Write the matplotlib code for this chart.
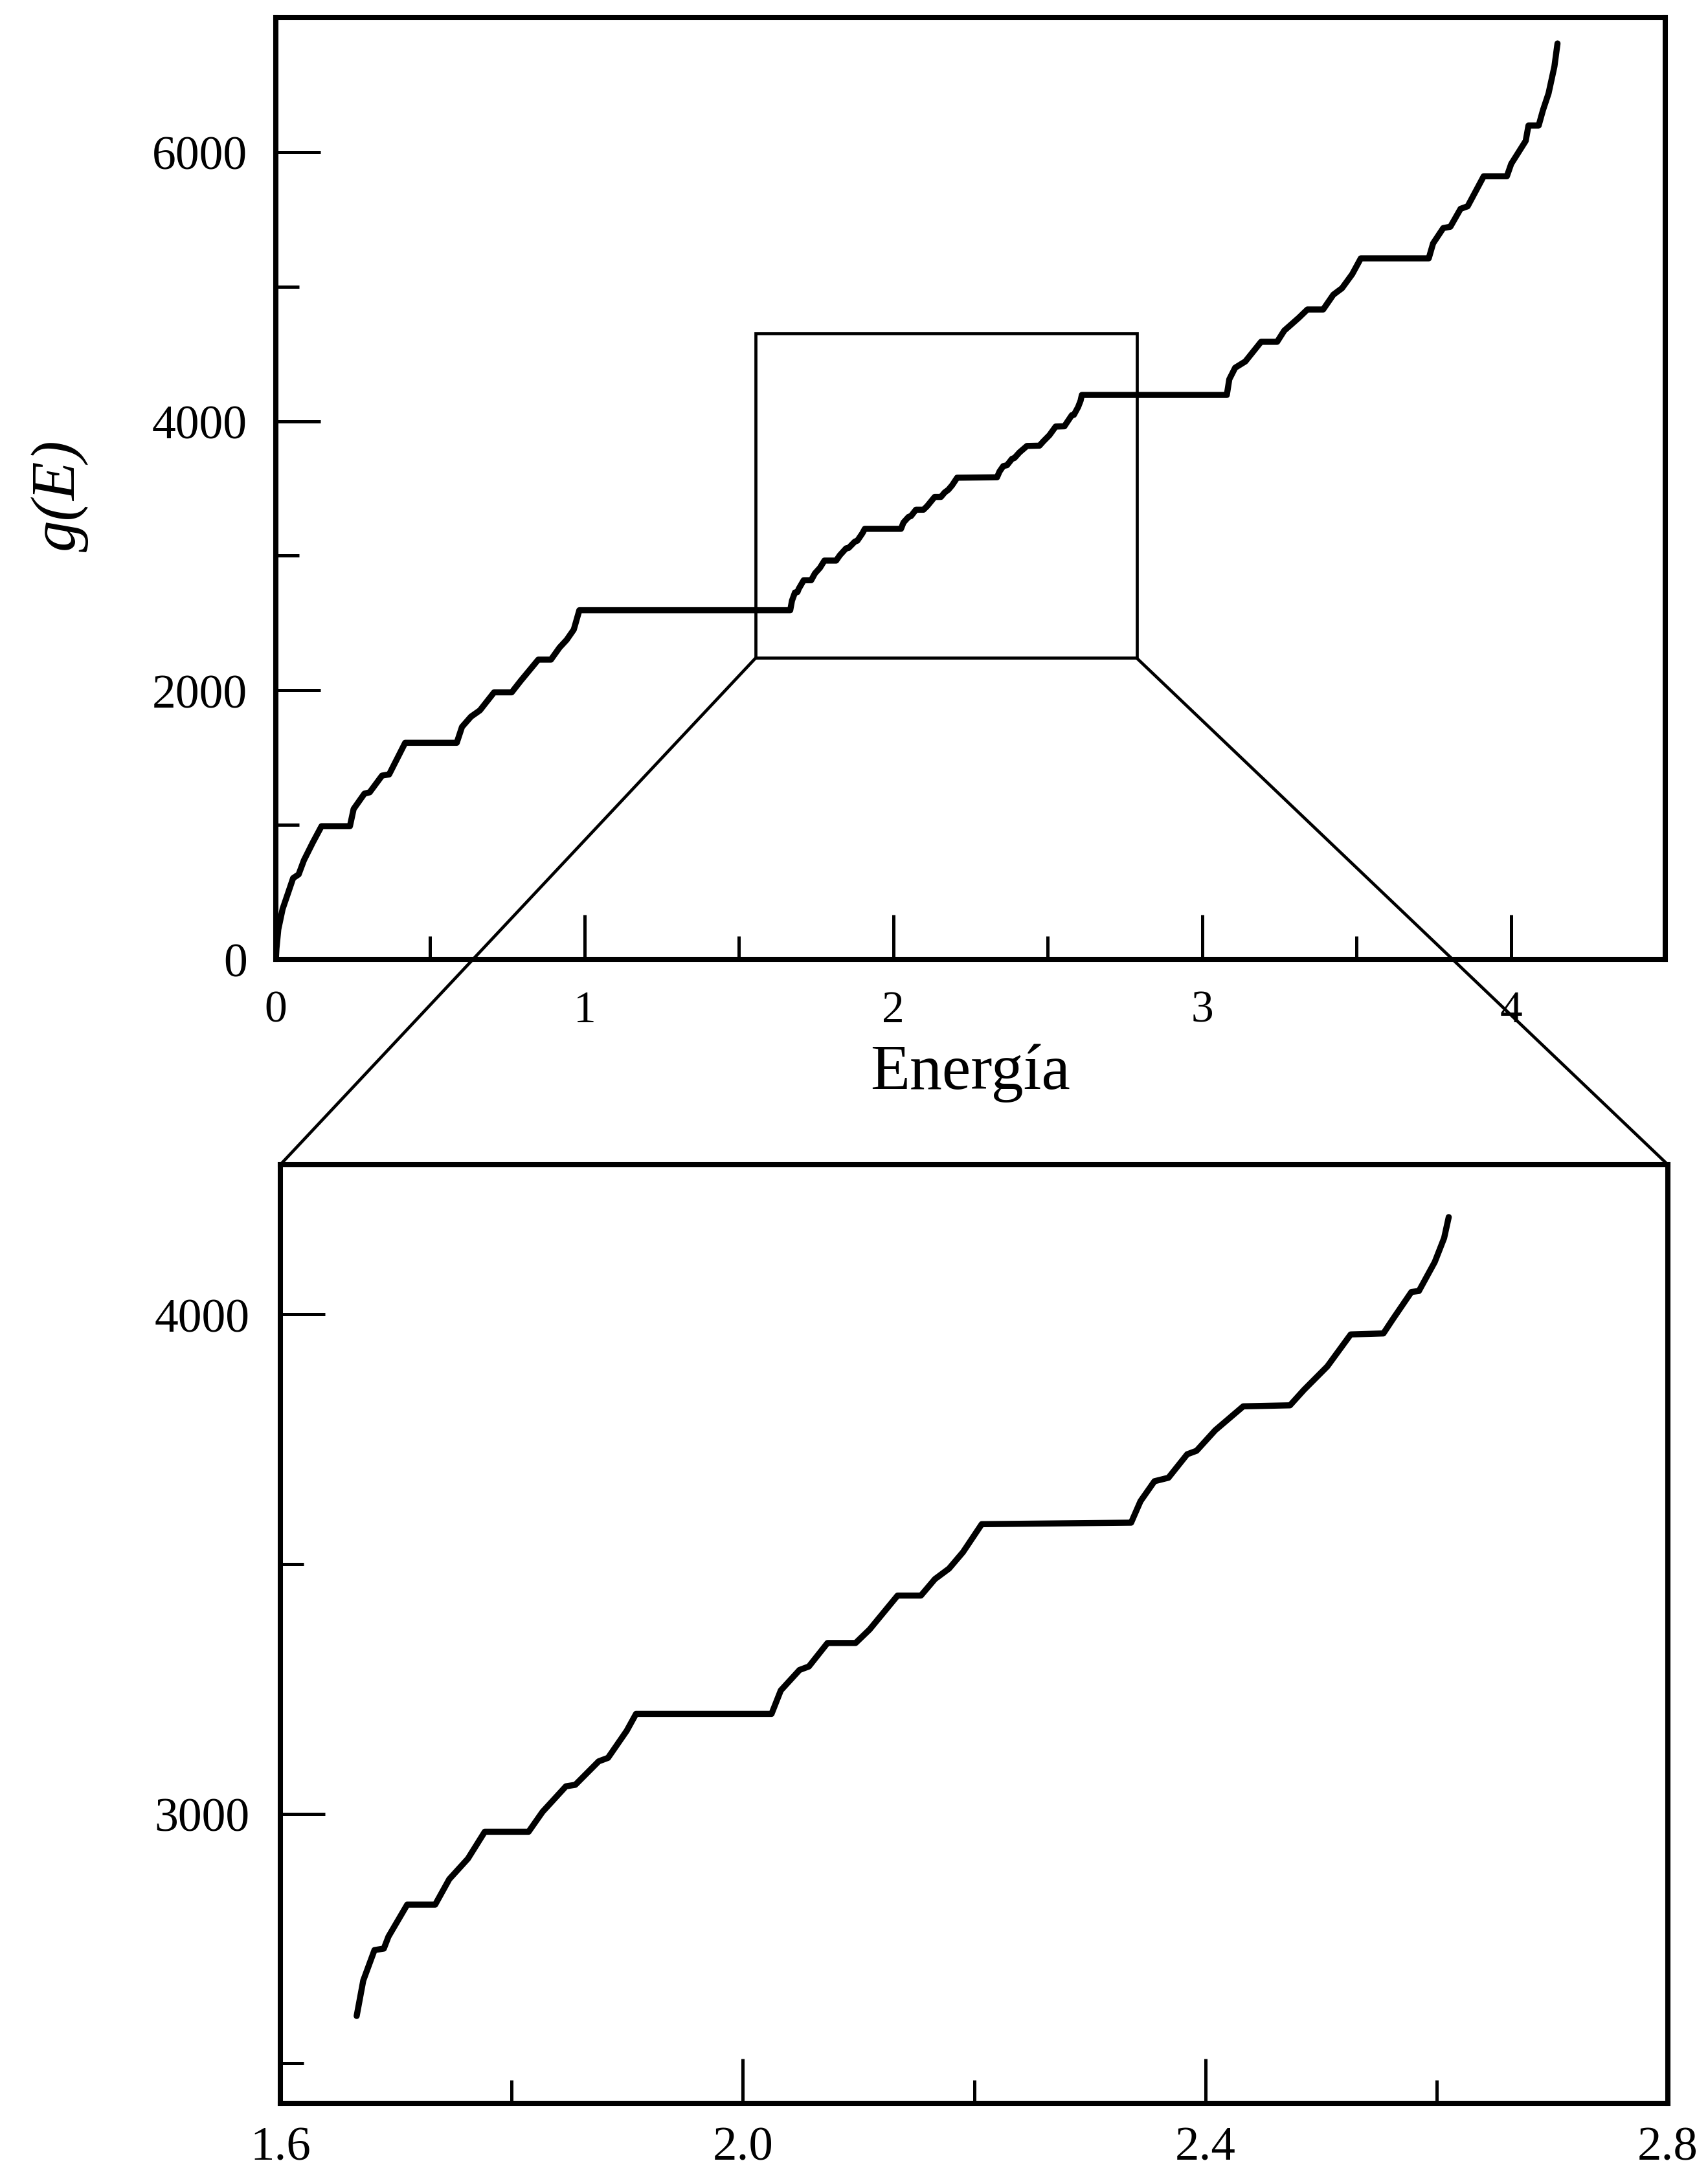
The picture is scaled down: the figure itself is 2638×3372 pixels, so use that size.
import matplotlib
matplotlib.use("Agg")
import numpy as np
import matplotlib.pyplot as plt
from matplotlib.patches import Rectangle, ConnectionPatch

# Integrated density of states g(E) versus energy
energy = [
    0.000, 0.002, 0.008, 0.022, 0.039, 0.056, 0.074, 0.091, 0.120, 0.148,
    0.240, 0.252, 0.287, 0.304, 0.344, 0.367, 0.419, 0.586, 0.603, 0.632,
    0.661, 0.707, 0.764, 0.793, 0.850, 0.891, 0.919, 0.942, 0.965, 0.983,
    1.666, 1.6717, 1.6814, 1.6895, 1.6935, 1.7097, 1.7339, 1.7461, 1.7622,
    1.7768, 1.8147, 1.8268, 1.8470, 1.8551, 1.8753, 1.8834, 1.8995, 1.9076,
    2.0248, 2.0328, 2.0490, 2.0571, 2.0732, 2.0975, 2.1096, 2.1338, 2.1540,
    2.1661, 2.1783, 2.1904, 2.2066, 2.3358, 2.3439, 2.3560, 2.3681, 2.3843,
    2.3924, 2.4085, 2.4328, 2.4732, 2.4853, 2.5055, 2.5257, 2.5540, 2.5620,
    2.5782, 2.5847, 2.5984, 2.6065, 2.6105,
    3.080, 3.088, 3.107, 3.140, 3.191, 3.243, 3.266, 3.313, 3.341, 3.392,
    3.425, 3.453, 3.486, 3.514, 3.734, 3.748, 3.781, 3.804, 3.837, 3.860,
    3.912, 3.987, 4.001, 4.048, 4.057, 4.090, 4.104, 4.122, 4.141, 4.151,
]
g_of_e = [
    0, 80, 223, 375, 489, 604, 632, 737, 870, 990,
    990, 1118, 1232, 1242, 1366, 1375, 1610, 1610, 1728, 1804,
    1851, 1985, 1985, 2070, 2228, 2228, 2318, 2375, 2451, 2595,
    2595, 2666, 2727, 2730, 2754, 2818, 2818, 2869, 2910,
    2964, 2964, 3004, 3055, 3058, 3105, 3112, 3166, 3200,
    3200, 3247, 3288, 3295, 3342, 3342, 3369, 3437, 3437,
    3470, 3491, 3524, 3580, 3583, 3626, 3666, 3673, 3720,
    3727, 3768, 3816, 3818, 3849, 3896, 3960, 3962, 3990,
    4045, 4047, 4105, 4153, 4195,
    4195, 4311, 4397, 4444, 4590, 4590, 4673, 4768, 4830, 4830,
    4940, 4988, 5092, 5210, 5210, 5321, 5435, 5445, 5578, 5597,
    5820, 5820, 5912, 6083, 6197, 6197, 6312, 6436, 6636, 6807,
]

# Band shown enlarged in the lower panel
band_e = (1.665, 2.611)

# Full view
full_xlim = (0.0, 4.5)
full_ylim = (0, 7000)
full_xticks = [0, 1, 2, 3, 4]
full_xtick_labels = ["0", "1", "2", "3", "4"]
full_xminor = [0.5, 1.5, 2.5, 3.5]
full_yticks = [0, 2000, 4000, 6000]
full_ytick_labels = ["0", "2000", "4000", "6000"]
full_yminor = [1000, 3000, 5000]

# Enlarged window
zoom_xlim = (1.6, 2.8)
zoom_ylim = (2420, 4300)
zoom_xticks = [1.6, 2.0, 2.4, 2.8]
zoom_xtick_labels = ["1.6", "2.0", "2.4", "2.8"]
zoom_xminor = [1.8, 2.2, 2.6]
zoom_yticks = [3000, 4000]
zoom_ytick_labels = ["3000", "4000"]
zoom_yminor = [2500, 3500]

# Frame marking the enlarged window on the full view
frame_e = (1.554, 2.788)
frame_g = (2240, 4650)

plt.rcParams["font.family"] = ["Liberation Serif", "DejaVu Serif"]

W, H = 2638, 3373
fig = plt.figure(figsize=(W / 100, H / 100), dpi=100)
fig.patch.set_facecolor("white")

spine_lw = 5.8
curve_lw = 6.8
tick_w = 3.6
thin_lw = 3.4


def style_axes(ax, xt, xtl, xmin, yt, ytl, ymin, xsize, ysize, xpad, ypad):
    for side in ("top", "right", "bottom", "left"):
        ax.spines[side].set_linewidth(spine_lw)
        ax.spines[side].set_color("black")
    ax.set_xticks(xt)
    ax.set_xticklabels(xtl)
    ax.set_xticks(xmin, minor=True)
    ax.set_yticks(yt)
    ax.set_yticklabels(ytl)
    ax.set_yticks(ymin, minor=True)
    ax.tick_params(which="both", direction="in", top=False, right=False,
                   width=tick_w, color="black")
    ax.tick_params(which="major", length=50)
    ax.tick_params(which="minor", length=26)
    ax.tick_params(axis="x", which="major", labelsize=xsize, pad=xpad)
    ax.tick_params(axis="y", which="major", labelsize=ysize, pad=ypad)


e_arr = np.asarray(energy)
g_arr = np.asarray(g_of_e)

# Upper panel: whole spectrum
ax1 = fig.add_axes([426 / W, 1 - 1483 / H, 2146 / W, (1483 - 28) / H])
ax1.plot(e_arr, g_arr, color="black", lw=curve_lw,
         solid_joinstyle="round", solid_capstyle="round")
ax1.set_xlim(*full_xlim)
ax1.set_ylim(*full_ylim)
style_axes(ax1, full_xticks, full_xtick_labels, full_xminor,
           full_yticks, full_ytick_labels, full_yminor, 50, 53, 34, 32)
ax1.add_patch(Rectangle((frame_e[0], frame_g[0]), frame_e[1] - frame_e[0],
                        frame_g[1] - frame_g[0], fill=False,
                        edgecolor="black", lw=thin_lw, zorder=3))

# Lower panel: the central band only
in_band = (e_arr >= band_e[0]) & (e_arr <= band_e[1])
ax2 = fig.add_axes([433 / W, 1 - 3250 / H, 2143 / W, (3250 - 1800) / H])
ax2.plot(e_arr[in_band], g_arr[in_band], color="black", lw=curve_lw,
         solid_joinstyle="round", solid_capstyle="round")
ax2.set_xlim(*zoom_xlim)
ax2.set_ylim(*zoom_ylim)
style_axes(ax2, zoom_xticks, zoom_xtick_labels, zoom_xminor,
           zoom_yticks, zoom_ytick_labels, zoom_yminor, 54, 53, 25, 34)

# Connector lines from the frame corners to the lower panel corners
for xe, xa in ((frame_e[0], 0.0), (frame_e[1], 1.0)):
    con = ConnectionPatch(xyA=(xe, frame_g[0]), coordsA=ax1.transData,
                          xyB=(xa, 1.0), coordsB=ax2.transAxes,
                          color="black", lw=thin_lw)
    fig.add_artist(con)

# Axis titles
fig.text(1499 / W, 1 - 1682 / H, "Energía", fontsize=72,
         ha="center", va="baseline")
fig.text(93 / W, 1 - 766 / H, "g(E)", fontsize=70, style="italic",
         rotation=90, ha="center", va="center")

fig.savefig("out.png", dpi=100, facecolor="white")
